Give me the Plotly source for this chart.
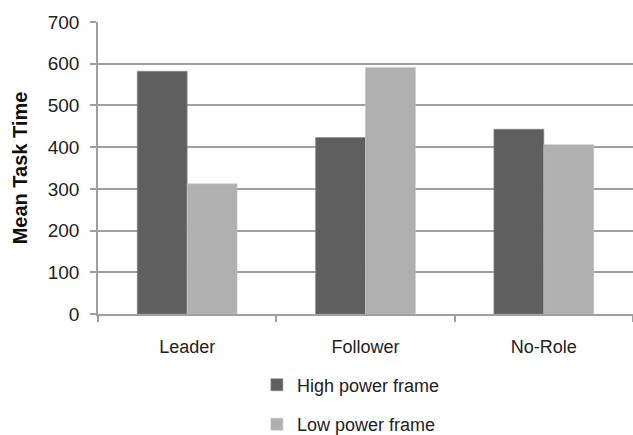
import plotly.graph_objects as go

categories = ["Leader", "Follower", "No-Role"]
high_power = [582, 423, 443]
low_power = [312, 591, 406]
y_ticks = [0, 100, 200, 300, 400, 500, 600, 700]

fig = go.Figure()
fig.add_trace(go.Bar(
    x=categories, y=high_power, name="High power frame",
    marker=dict(color="#5f5f5f", line=dict(color="#8a8a8a", width=0.6)),
    legendgroup="h",
))
fig.add_trace(go.Bar(
    x=categories, y=low_power, name="Low power frame",
    marker=dict(color="#b0b0b0", line=dict(color="#c8c8c8", width=0.6)),
    legendgroup="l",
))

fig.update_layout(
    width=633, height=435,
    margin=dict(l=98, r=0, t=22, b=121, autoexpand=False),
    paper_bgcolor="white", plot_bgcolor="white",
    barmode="group", bargap=0.44, bargroupgap=0,
    font=dict(family="Liberation Sans, Arial, sans-serif", color="#222222"),
    showlegend=True,
    legend=dict(
        x=0.297, xanchor="left", y=-0.180, yanchor="top",
        orientation="v", traceorder="grouped", tracegroupgap=13,
        font=dict(size=18, color="#222222"),
        bgcolor="rgba(0,0,0,0)",
    ),
)
fig.update_xaxes(
    type="category", range=[-0.5, 2.5],
    showline=True, linecolor="#a0a0a0", linewidth=1.5,
    ticks="outside", tickson="boundaries", ticklen=6, tickcolor="#a0a0a0", tickwidth=1.5,
    tickfont=dict(size=18, color="#222222"), ticklabelstandoff=16,
    showgrid=False, automargin=False,
)
fig.update_yaxes(
    range=[0, 700], tickvals=y_ticks,
    showgrid=True, gridcolor="#a0a0a0", gridwidth=1.5,
    showline=True, linecolor="#a0a0a0", linewidth=1.5,
    ticks="outside", ticklen=6, tickcolor="#a0a0a0", tickwidth=1.5,
    tickfont=dict(size=19, color="#222222"), ticklabelstandoff=7,
    zeroline=False,
    title=dict(text="<b>Mean Task Time</b>", font=dict(size=20, color="#111111"), standoff=15),
    automargin=False,
)

fig.write_html(
    "out.html",
    config={"displayModeBar": False},
    post_script="document.body.style.margin='0';document.body.style.overflow='hidden';",
)
